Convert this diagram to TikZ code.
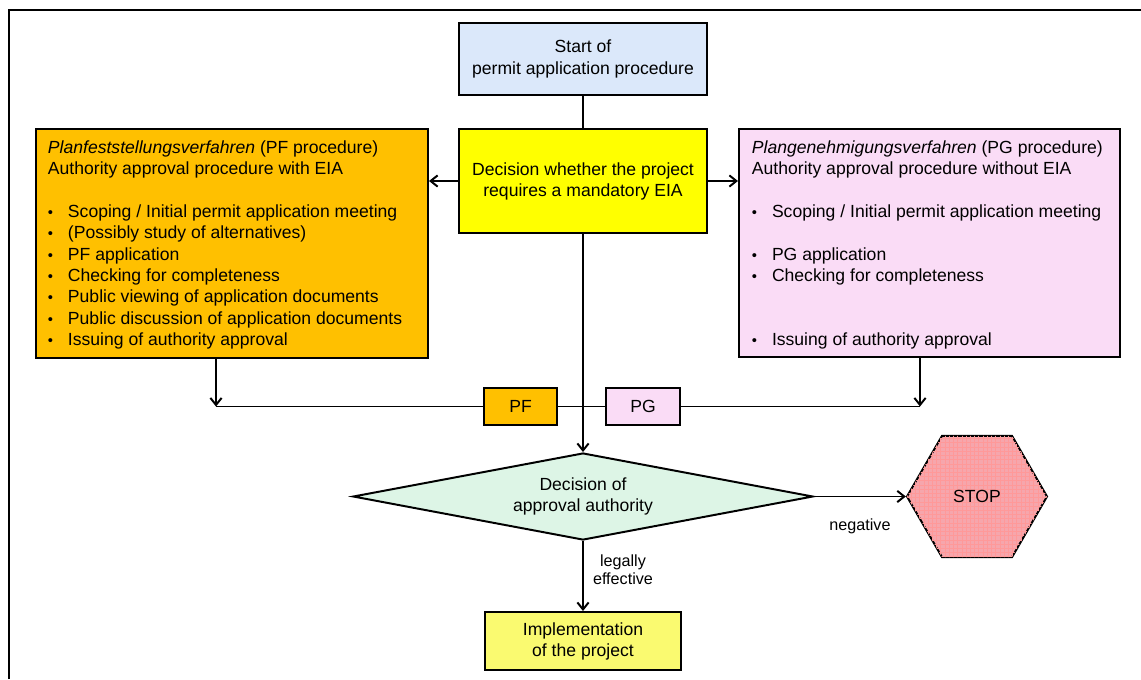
\documentclass[tikz,border=0pt]{standalone}
\usepackage{fontspec}
\setmainfont{Liberation Sans}
\usetikzlibrary{shapes.geometric,arrows.meta,patterns}
\definecolor{startblue}{RGB}{219,232,250}
\definecolor{decyellow}{RGB}{255,255,0}
\definecolor{pforange}{RGB}{255,192,0}
\definecolor{pgpink}{RGB}{250,220,246}
\definecolor{apgreen}{RGB}{221,245,230}
\definecolor{implyellow}{RGB}{250,250,112}
\definecolor{stopred}{RGB}{246,166,172}
\newcommand{\bul}[1]{\makebox[0.5cm][l]{\fontsize{10.5}{10}\selectfont\textbullet}#1}
\tikzset{
  box/.style={draw, line width=1.4pt, inner sep=0pt, align=center,
    font=\fontsize{12.5}{15}\selectfont},
  boxtext/.style={anchor=north west, inner sep=0pt, align=left,
    font=\fontsize{12.5}{15.2}\selectfont},
  lbl/.style={inner sep=0pt, align=center, font=\fontsize{11.5}{12.8}\selectfont}
}
\begin{document}
\begin{tikzpicture}[x=0.025cm,y=-0.025cm,line width=1.4pt,>={Straight Barb[length=5pt,width=8pt]}]
  \useasboundingbox (0,0) rectangle (1141,679);
  \draw[line width=2pt] (9,679)--(9,10)--(1141,10);
  % top boxes
  \node (start) [box, fill=startblue, minimum width=6.175cm, minimum height=1.8cm] at (583,59)
    {Start of\\permit application procedure};
  \node (eia) [box, fill=decyellow, minimum width=6.175cm, minimum height=2.6cm] at (583,181)
    {Decision whether the project\\requires a mandatory EIA};
  \node (pfbox) [box, fill=pforange, minimum width=9.8cm, minimum height=5.725cm] at (232,243.5) {};
  \node (pgbox) [box, fill=pgpink, minimum width=9.525cm, minimum height=5.7cm] at (929.5,243) {};
  \node (pftext) [boxtext] at (47,139.5)
    {\textit{Planfeststellungsverfahren} (PF procedure)\\
     Authority approval procedure with EIA\\
     \mbox{}\\
     \bul{Scoping / Initial permit application meeting}\\
     \bul{(Possibly study of alternatives)}\\
     \bul{PF application}\\
     \bul{Checking for completeness}\\
     \bul{Public viewing of application documents}\\
     \bul{Public discussion of application documents}\\
     \bul{Issuing of authority approval}};
  \node (pgtext) [boxtext] at (751,139.5)
    {\textit{Plangenehmigungsverfahren} (PG procedure)\\
     Authority approval procedure without EIA\\
     \mbox{}\\
     \bul{Scoping / Initial permit application meeting}\\
     \mbox{}\\
     \bul{PG application}\\
     \bul{Checking for completeness}\\
     \mbox{}\\
     \mbox{}\\
     \bul{Issuing of authority approval}};
  % small boxes
  \node (pf) [box, fill=pforange, minimum width=1.825cm, minimum height=0.925cm] at (520.5,406.5) {PF};
  \node (pg) [box, fill=pgpink, minimum width=1.85cm, minimum height=0.925cm] at (643,406.5) {PG};
  \node (approval) [box, diamond, aspect=5.3, fill=apgreen, minimum width=11.5cm, minimum height=2.175cm] at (583,496.5)
    {Decision of\\approval authority};
  \node (stop) [box, regular polygon, regular polygon sides=6, minimum size=3.5cm, fill=stopred,
    postaction={pattern=grid, pattern color=red!40}] at (977,496.5) {};
  \node (stoptext) [box, draw=none] at (stop.center) {STOP};
  \node (impl) [box, fill=implyellow, minimum width=4.875cm, minimum height=1.45cm] at (583,641)
    {Implementation\\of the project};
  \coordinate (pfjoin) at (216,406.5);
  \coordinate (pgjoin) at (920,406.5);
  % connectors
  \draw (start) -- (eia);
  \draw[->] (eia.west) -- (eia.west -| pfbox.east);
  \draw[->] (eia.east) -- (eia.east -| pgbox.west);
  \draw[->] (eia.south) -- (approval.north);
  \draw[->] (pfbox.south -| pfjoin) -- (pfjoin);
  \draw[->] (pgbox.south -| pgjoin) -- (pgjoin);
  \draw (pfjoin) -- (pf.west);
  \draw (pf.east) -- (pg.west);
  \draw (pg.east) -- (pgjoin);
  \draw[->] (approval.east) -- (stop.west);
  \draw[->] (approval.south) -- (impl.north);
  \node (neg) [lbl] at (860,526) {negative};
  \node (legal) [lbl] at (623,570) {legally\\effective};
\end{tikzpicture}
\end{document}
